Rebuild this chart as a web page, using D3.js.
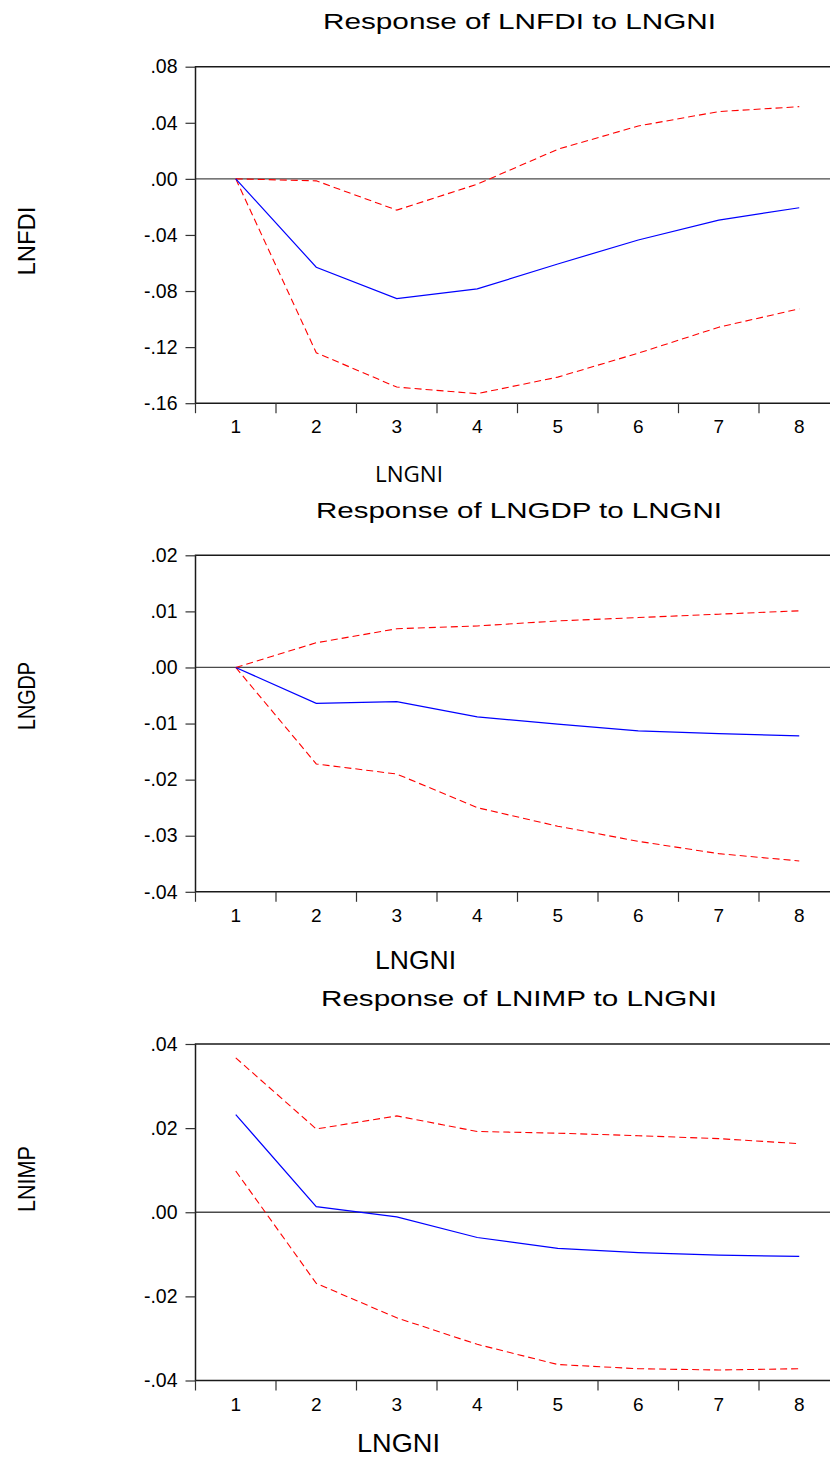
<!DOCTYPE html>
<html>
<head>
<meta charset="utf-8">
<script src="https://cdn.jsdelivr.net/npm/d3@7/dist/d3.min.js"></script>
<style>
  html, body { margin: 0; padding: 0; background: #fff; }
  svg { display: block; }
  text { font-family: "Liberation Sans", Arial, sans-serif; fill: #000; }
</style>
</head>
<body>
<svg id="chart" width="830" height="1458"></svg>
<script>
// ---- Data ----
const periods = ["1", "2", "3", "4", "5", "6", "7", "8"];

const fdiResp  = [0, -0.063, -0.0854, -0.0785, -0.0607, -0.0436, -0.0294, -0.0206];
const fdiUpper = [0, -0.0014, -0.0223, -0.0038, 0.0211, 0.0377, 0.048, 0.0515];
const fdiLower = [0, -0.124, -0.1485, -0.1532, -0.1414, -0.1243, -0.1058, -0.0927];
const fdiTicks = [0.08, 0.04, 0.00, -0.04, -0.08, -0.12, -0.16];

const gdpResp  = [0, -0.0064, -0.0061, -0.0088, -0.0101, -0.0113, -0.0118, -0.0122];
const gdpUpper = [0, 0.0044, 0.0069, 0.0074, 0.0083, 0.0089, 0.0095, 0.0101];
const gdpLower = [0, -0.0172, -0.019, -0.025, -0.0283, -0.031, -0.0332, -0.0345];
const gdpTicks = [0.02, 0.01, 0.00, -0.01, -0.02, -0.03, -0.04];

const impResp  = [0.0232, 0.00135, -0.0011, -0.006, -0.0086, -0.0096, -0.0102, -0.0105];
const impUpper = [0.0367, 0.0198, 0.0229, 0.0192, 0.0188, 0.0182, 0.0175, 0.0163];
const impLower = [0.0098, -0.0169, -0.0251, -0.0314, -0.0362, -0.0372, -0.0375, -0.0372];
const impTicks = [0.04, 0.02, 0.00, -0.02, -0.04];

const titles = ["Response of LNFDI to LNGNI", "Response of LNGDP to LNGNI", "Response of LNIMP to LNGNI"];
const yLabels = ["LNFDI", "LNGDP", "LNIMP"];
const xLabel = "LNGNI";

// ---- Layout ----
const panels = [
  { top: 66.7, resp: fdiResp, up: fdiUpper, lo: fdiLower, ticks: fdiTicks,
    title: titles[0], titleX: 519.5, titleY: 29, titleW: 393,
    yl: yLabels[0], ylY: 241, ylW: 69,
    xlX: 409, xlY: 482, xlW: 68, xlFont: "'Open Sans', sans-serif", xlSize: 22 },
  { top: 555.3, resp: gdpResp, up: gdpUpper, lo: gdpLower, ticks: gdpTicks,
    title: titles[1], titleX: 519, titleY: 517.6, titleW: 406,
    yl: yLabels[1], ylY: 696, ylW: 68,
    xlX: 415.5, xlY: 969, xlW: 81, xlFont: "'Liberation Sans', Arial, sans-serif", xlSize: 26 },
  { top: 1044, resp: impResp, up: impUpper, lo: impLower, ticks: impTicks,
    title: titles[2], titleX: 519, titleY: 1006.3, titleW: 396,
    yl: yLabels[2], ylY: 1179, ylW: 66,
    xlX: 398.5, xlY: 1452, xlW: 83, xlFont: "'Liberation Sans', Arial, sans-serif", xlSize: 25 }
];

const plotLeft = 195.5, plotRight = 839.5, plotH = 336.5;
const svg = d3.select("#chart");

const fmt = v => {
  if (Math.abs(v) < 1e-9) return ".00";
  const s = d3.format(".2f")(Math.abs(v)).replace(/^0/, "");
  return (v < 0 ? "-" : "") + s;
};

panels.forEach(p => {
  const g = svg.append("g");
  const x = d3.scaleBand().domain(periods).range([plotLeft, plotRight]).padding(0);
  const ext = d3.extent(p.ticks);
  const y = d3.scaleLinear().domain([ext[0], ext[1]]).range([p.top + plotH, p.top]);
  const cx = d => x(d) + x.bandwidth() / 2;
  const bottom = p.top + plotH;

  // zero line
  g.append("line")
    .attr("x1", plotLeft).attr("x2", 830)
    .attr("y1", y(0)).attr("y2", y(0))
    .attr("stroke", "#4a4a4a").attr("stroke-width", 1.3);

  // frame: top, left, bottom
  g.append("path")
    .attr("d", `M${830},${y(ext[1])}H${plotLeft}V${bottom}H${830}`)
    .attr("fill", "none").attr("stroke", "#1a1a1a").attr("stroke-width", 1.5);

  // y axis ticks + labels
  const ya = d3.axisLeft(y).tickValues(p.ticks).tickSize(10).tickPadding(8).tickFormat(fmt);
  const yg = g.append("g").attr("transform", `translate(${plotLeft},0)`).call(ya);
  yg.select(".domain").remove();
  yg.selectAll(".tick line").attr("stroke", "#333").attr("stroke-width", 1.2);
  yg.selectAll(".tick text")
    .style("font-family", "'Liberation Sans', Arial, sans-serif")
    .style("font-size", "19.5px").attr("fill", "#000");

  // x axis: tick marks at band boundaries, labels at centers
  const xa = d3.axisBottom(x).tickSize(0).tickPadding(0);
  const xg = g.append("g").attr("transform", `translate(0,${bottom})`).call(xa);
  xg.select(".domain").remove();
  xg.selectAll(".tick text")
    .attr("y", 30).attr("dy", 0)
    .style("font-family", "'Liberation Sans', Arial, sans-serif")
    .style("font-size", "19px").attr("fill", "#000");
  g.append("g").selectAll("line").data(periods).join("line")
    .attr("x1", d => x(d)).attr("x2", d => x(d))
    .attr("y1", bottom).attr("y2", bottom + 10)
    .attr("stroke", "#333").attr("stroke-width", 1.2);

  // series
  const line = d3.line().x((d, i) => cx(periods[i])).y(d => y(d));
  g.append("path").datum(p.up).attr("d", line)
    .attr("fill", "none").attr("stroke", "#ff0000").attr("stroke-width", 1.1)
    .attr("stroke-dasharray", "7,4");
  g.append("path").datum(p.lo).attr("d", line)
    .attr("fill", "none").attr("stroke", "#ff0000").attr("stroke-width", 1.1)
    .attr("stroke-dasharray", "7,4");
  g.append("path").datum(p.resp).attr("d", line)
    .attr("fill", "none").attr("stroke", "#0000ff").attr("stroke-width", 1.2);

  // title
  g.append("text").text(p.title)
    .attr("x", p.titleX).attr("y", p.titleY)
    .attr("text-anchor", "middle")
    .attr("textLength", p.titleW).attr("lengthAdjust", "spacingAndGlyphs")
    .style("font-size", "22px");

  // y label
  g.append("text").text(p.yl)
    .attr("transform", `translate(35,${p.ylY}) rotate(-90)`)
    .attr("text-anchor", "middle")
    .attr("textLength", p.ylW).attr("lengthAdjust", "spacingAndGlyphs")
    .style("font-size", "24px");

  // x label
  g.append("text").text(xLabel)
    .attr("x", p.xlX).attr("y", p.xlY)
    .attr("text-anchor", "middle")
    .attr("textLength", p.xlW).attr("lengthAdjust", "spacingAndGlyphs")
    .style("font-family", p.xlFont)
    .style("font-size", p.xlSize + "px");
});
</script>
</body>
</html>
